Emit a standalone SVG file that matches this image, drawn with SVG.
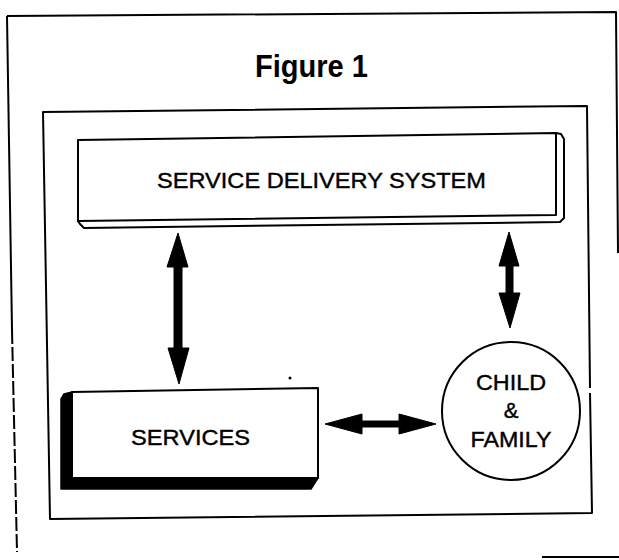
<svg xmlns="http://www.w3.org/2000/svg" width="619" height="560" viewBox="0 0 619 560">
<style>
.ln{fill:none;stroke:#000;stroke-width:2;stroke-linejoin:round}
.box{fill:#fff;stroke:#000;stroke-width:2;stroke-linejoin:round}
.lbl{font-family:"Liberation Sans",Arial,sans-serif;font-size:22px;fill:#000;stroke:#000;stroke-width:0.4;text-anchor:middle}
.arr{fill:#000;stroke:#000;stroke-width:1;stroke-linejoin:round}
</style>
<rect width="619" height="560" fill="#fff"/>
<g id="frame">
<path class="ln" d="M7,16 L616,12 L618,253"/>
<path class="ln" d="M7,16 L12,330"/>
<path class="ln" d="M12,330 L17,552" stroke-dasharray="14,3"/>
<path class="ln" d="M542,557 L619,557" stroke-width="2.5"/>
<path class="ln" d="M590,388 L587,106 L43,112 L50,519 L592,513 L590,393"/>
</g>
<text id="title" x="311.5" y="77" font-family="'Liberation Sans',Arial,sans-serif" font-size="31" font-weight="bold" text-anchor="middle" textLength="113" lengthAdjust="spacingAndGlyphs">Figure 1</text>
<g id="sds">
<path class="box" d="M556,133 L561,134 L564,139 L564,218 L560,222 L84,228 L80,224 L78,221 Z"/>
<path class="box" d="M78,140 L556,133 L556,215 L78,221 Z"/>
<text class="lbl" x="321.5" y="188" textLength="329" lengthAdjust="spacingAndGlyphs">SERVICE DELIVERY SYSTEM</text>
</g>
<g id="services">
<path d="M72,392 L64,394 L61,399 L61,489 L311,489 L318,478 L72,478 Z" fill="#000" stroke="#000" stroke-width="1.5" stroke-linejoin="round"/>
<path class="box" d="M72,392 L318,388 L318,478 L72,478 Z"/>
<text class="lbl" x="190.5" y="445" textLength="119" lengthAdjust="spacingAndGlyphs">SERVICES</text>
<circle cx="290" cy="378" r="1.5" fill="#000"/>
</g>
<g id="child-family">
<circle class="box" cx="511" cy="411" r="69"/>
<text class="lbl" x="511" y="390" textLength="70" lengthAdjust="spacingAndGlyphs">CHILD</text>
<text class="lbl" x="511" y="418">&amp;</text>
<text class="lbl" x="511" y="447" textLength="81" lengthAdjust="spacingAndGlyphs">FAMILY</text>
</g>
<g id="connectors">
<path class="arr" d="M178,233 L188,267 L182,267 L182,348 L189,348 L179,384 L168,348 L174,348 L174,267 L167,267 Z"/>
<path class="arr" d="M509,232 L519,266 L513,266 L513,293 L520,293 L510,328 L499,293 L506,293 L506,266 L499,266 Z"/>
<path class="arr" d="M325,424 L362,414 L362,421 L399,421 L399,414 L436,424 L399,434 L399,427 L362,427 L362,434 Z"/>
</g>
</svg>
